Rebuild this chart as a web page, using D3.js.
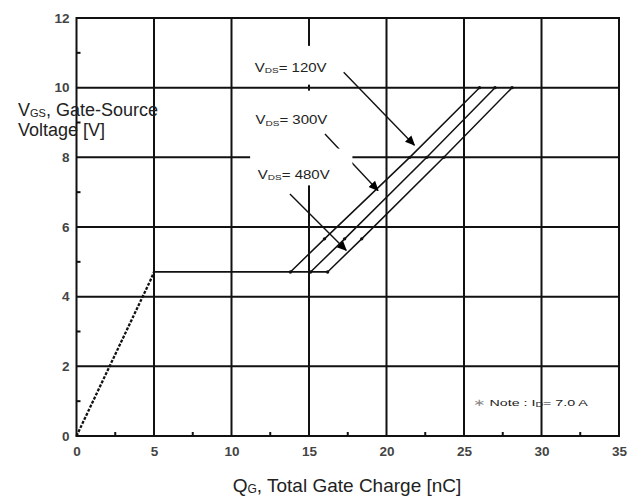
<!DOCTYPE html>
<html>
<head>
<meta charset="utf-8">
<script src="https://cdnjs.cloudflare.com/ajax/libs/d3/7.8.5/d3.min.js"></script>
<style>
  body { margin: 0; background: #fff; }
  svg { display: block; font-family: 'Liberation Sans', Arial, sans-serif; }
</style>
</head>
<body>
<div id="chart"></div>
<script>
// gate charge curve
const qTicks = [0, 5, 10, 15, 20, 25, 30, 35];
const vTicks = [0, 2, 4, 6, 8, 10, 12];
const qMinor = [2.5, 7.5, 12.5, 17.5, 22.5, 27.5, 32.5];
const vMinor = [1, 3, 5, 7, 9, 11];

// linear ramp (dotted) up to the miller plateau
const ramp = [[0, 0], [2.4, 2.25], [4.75, 4.45], [5, 4.71]];
// plateau shared by all three curves
const plateau = [[5, 4.71], [16.2, 4.71]];
// rising parts after the plateau, one per VDS
const rise120 = [[13.8, 4.71], [16.0, 5.66], [21.5, 8.0], [26.0, 10.0]];
const rise300 = [[15.1, 4.71], [17.3, 5.66], [22.6, 8.0], [27.0, 10.0]];
const rise480 = [[16.2, 4.71], [18.4, 5.66], [23.7, 8.0], [28.1, 10.0]];
const rises = [rise120, rise300, rise480];

// annotation labels
const annLabels = ['120V', '300V', '480V'];
const annText = [[11.5, 10.45], [11.55, 8.95], [11.7, 7.38]];   // label position (nC, V)
const annFrom = [[17.24, 10.44], [16.03, 8.67], [13.77, 6.95]]; // arrow tail (nC, V)
const annTo = [[21.8, 8.35], [19.45, 7.05], [17.4, 5.33]];      // arrow head (nC, V)

const [width, height] = [644, 497];
const margin = { top: 18, right: 25, bottom: 61, left: 76.5 };

const svg = d3.select('#chart')
    .append('svg')
    .attr('width', width)
    .attr('height', height);

const x = d3.scaleLinear().domain([0, 35]).range([margin.left, width - margin.right]);
const y = d3.scaleLinear().domain([0, 12]).range([height - margin.bottom, margin.top]);

// text squeezed wider, like the scanned datasheet
function wideText(px, py, sx, size) {
    return svg.append('g')
        .attr('transform', `translate(${px},${py}) scale(${sx},1)`)
        .append('text')
        .attr('font-size', size)
        .attr('fill', '#222');
}

// arrow head marker
svg.append('defs').append('marker')
    .attr('id', 'head')
    .attr('viewBox', '0 0 10 10')
    .attr('refX', 9)
    .attr('refY', 5)
    .attr('markerWidth', 10)
    .attr('markerHeight', 10)
    .attr('markerUnits', 'userSpaceOnUse')
    .attr('orient', 'auto')
    .append('path')
    .attr('d', 'M0,0.5 L10,5 L0,9.5 Z')
    .attr('fill', '#000');

// grid
const grid = svg.append('g');
grid.selectAll('.vg')
    .data(qTicks.slice(1, -1))
    .join('line')
    .attr('x1', (d) => x(d)).attr('x2', (d) => x(d))
    .attr('y1', y(12)).attr('y2', y(0))
    .attr('stroke', '#111').attr('stroke-width', 2);
grid.selectAll('.hg')
    .data(vTicks.slice(1, -1))
    .join('line')
    .attr('x1', x(0)).attr('x2', x(35))
    .attr('y1', (d) => y(d)).attr('y2', (d) => y(d))
    .attr('stroke', '#111').attr('stroke-width', 2);

const line = d3.line().x((d) => x(d[0])).y((d) => y(d[1]));

// curves
svg.append('path')
    .attr('d', line(ramp))
    .attr('fill', 'none')
    .attr('stroke', '#111')
    .attr('stroke-width', 2.3)
    .attr('stroke-dasharray', '3,1.5');

svg.append('path')
    .attr('d', line(plateau))
    .attr('fill', 'none')
    .attr('stroke', '#111')
    .attr('stroke-width', 1.8);

svg.selectAll('.rise')
    .data(rises)
    .join('path')
    .attr('d', (d) => line(d))
    .attr('fill', 'none')
    .attr('stroke', '#111')
    .attr('stroke-width', 1.5);

// small markers along the curves
svg.selectAll('.dot')
    .data(rises.flat())
    .join('circle')
    .attr('cx', (d) => x(d[0]))
    .attr('cy', (d) => y(d[1]))
    .attr('r', 1.7)
    .attr('fill', '#111');

// arrows
svg.selectAll('.arrow')
    .data(annFrom)
    .join('line')
    .attr('x1', (d) => x(d[0]))
    .attr('y1', (d) => y(d[1]))
    .attr('x2', (d, i) => x(annTo[i][0]))
    .attr('y2', (d, i) => y(annTo[i][1]))
    .attr('stroke', '#111')
    .attr('stroke-width', 1.4)
    .attr('marker-end', 'url(#head)');

// white masks where the labels sit on the grid
const mask = svg.append('g').attr('fill', '#fff');
mask.append('rect')
    .attr('x', x(15) - 6).attr('width', 12)
    .attr('y', y(11.2)).attr('height', y(10) - 3 - y(11.2));
mask.append('rect')
    .attr('x', x(15) - 6).attr('width', 12)
    .attr('y', y(10) + 3).attr('height', y(7.2) - y(10) - 3);
mask.append('rect')
    .attr('x', x(11.2)).attr('width', x(17.8) - x(11.2))
    .attr('y', y(8.25)).attr('height', y(7.2) - y(8.25));

// labels
annLabels.forEach((d, i) => {
    const t = wideText(x(annText[i][0]), y(annText[i][1]), 1.25, 12);
    t.append('tspan').text('V');
    t.append('tspan').attr('font-size', 8).attr('dy', 1.5).text('DS');
    t.append('tspan').attr('dy', -1.5).text('= ' + d);
});

// frame
svg.append('rect')
    .attr('x', x(0)).attr('y', y(12))
    .attr('width', x(35) - x(0)).attr('height', y(0) - y(12))
    .attr('fill', 'none')
    .attr('stroke', '#111')
    .attr('stroke-width', 2);

// minor ticks
svg.selectAll('.mx')
    .data(qMinor)
    .join('line')
    .attr('x1', (d) => x(d)).attr('x2', (d) => x(d))
    .attr('y1', y(0)).attr('y2', y(0) - 4)
    .attr('stroke', '#111').attr('stroke-width', 2);
svg.selectAll('.my')
    .data(vMinor)
    .join('line')
    .attr('x1', x(0)).attr('x2', x(0) + 4)
    .attr('y1', (d) => y(d)).attr('y2', (d) => y(d))
    .attr('stroke', '#111').attr('stroke-width', 2);

// axes (labels only)
const xAxis = svg.append('g')
    .attr('transform', `translate(0,${y(0)})`)
    .call(d3.axisBottom(x).tickValues(qTicks).tickSize(0).tickPadding(10));
const yAxis = svg.append('g')
    .attr('transform', `translate(${x(0)},0)`)
    .call(d3.axisLeft(y).tickValues(vTicks).tickSize(0).tickPadding(7));
[xAxis, yAxis].forEach((g) => {
    g.select('.domain').remove();
    g.selectAll('text')
        .attr('font-family', "'Liberation Sans', Arial, sans-serif")
        .attr('font-size', 13.5)
        .attr('font-weight', 'bold')
        .attr('fill', '#444');
});

// axis titles
const yt = svg.append('text')
    .attr('x', 18).attr('y', 116)
    .attr('font-size', 18)
    .attr('fill', '#222');
yt.append('tspan').text('V');
yt.append('tspan').attr('font-size', 11).attr('dy', 1).text('GS');
yt.append('tspan').attr('dy', -1).text(', Gate-Source');
svg.append('text')
    .attr('x', 18).attr('y', 136)
    .attr('font-size', 18)
    .attr('fill', '#222')
    .text('Voltage [V]');

const xt = svg.append('text')
    .attr('x', 347).attr('y', 492)
    .attr('text-anchor', 'middle')
    .attr('font-size', 19)
    .attr('fill', '#222');
xt.append('tspan').text('Q');
xt.append('tspan').attr('font-size', 12).attr('dy', 1).text('G');
xt.append('tspan').attr('dy', -1).text(', Total Gate Charge [nC]');

// note
const note = wideText(x(25.6), 406, 1.5, 9.5);
note.append('tspan').attr('fill', '#888').text('\u2217');
note.append('tspan').attr('dx', 3).text('Note : I');
note.append('tspan').attr('font-size', 7).attr('dy', 1).text('D');
note.append('tspan').attr('dy', -1).text('= 7.0 A');
</script>
</body>
</html>
